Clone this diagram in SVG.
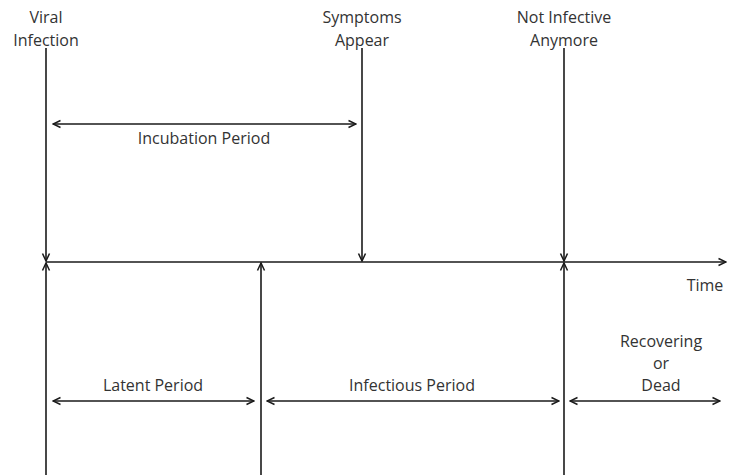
<svg xmlns="http://www.w3.org/2000/svg" width="730" height="475" viewBox="0 0 730 475">
<defs>
<marker id="ah" viewBox="0 0 10 10" refX="9" refY="5" markerWidth="10" markerHeight="10" markerUnits="userSpaceOnUse" orient="auto-start-reverse">
<path d="M1.5,1.5 L9,5 L1.5,8.5" fill="none" stroke="#1a1a1a" stroke-width="1.5"/>
</marker>
<style>
.l{stroke:#1a1a1a;stroke-width:1.6;fill:none}
.a{marker-end:url(#ah)}
.b{marker-start:url(#ah);marker-end:url(#ah)}
text{font-family:"Open Sans","Liberation Sans",Arial,sans-serif;font-size:16px;fill:#333;text-anchor:middle}
</style>
</defs>
<g id="connectors">
<line class="l a" x1="46" y1="262" x2="726" y2="262"/>
<line class="l a" x1="46" y1="48" x2="46" y2="261"/>
<line class="l a" x1="362" y1="48" x2="362" y2="261"/>
<line class="l a" x1="564" y1="48" x2="564" y2="261"/>
<line class="l a" x1="46" y1="475" x2="46" y2="263"/>
<line class="l a" x1="261" y1="475" x2="261" y2="263"/>
<line class="l a" x1="564" y1="475" x2="564" y2="263"/>
<line class="l b" x1="53" y1="124" x2="356" y2="124"/>
<line class="l b" x1="53" y1="401" x2="254" y2="401"/>
<line class="l b" x1="267" y1="401" x2="559" y2="401"/>
<line class="l b" x1="570" y1="401" x2="720" y2="401"/>
</g>
<g id="viral-infection"><text x="46" y="23">Viral</text><text x="46" y="46">Infection</text></g>
<g id="symptoms-appear"><text x="362" y="23">Symptoms</text><text x="362" y="46">Appear</text></g>
<g id="not-infective"><text x="564" y="23">Not Infective</text><text x="564" y="46">Anymore</text></g>
<g id="incubation"><text x="204" y="144">Incubation Period</text></g>
<g id="time"><text x="705" y="291">Time</text></g>
<g id="latent"><text x="153" y="391">Latent Period</text></g>
<g id="infectious"><text x="412" y="391">Infectious Period</text></g>
<g id="recovering"><text x="661" y="347">Recovering</text><text x="661" y="369">or</text><text x="661" y="391">Dead</text></g>
</svg>
